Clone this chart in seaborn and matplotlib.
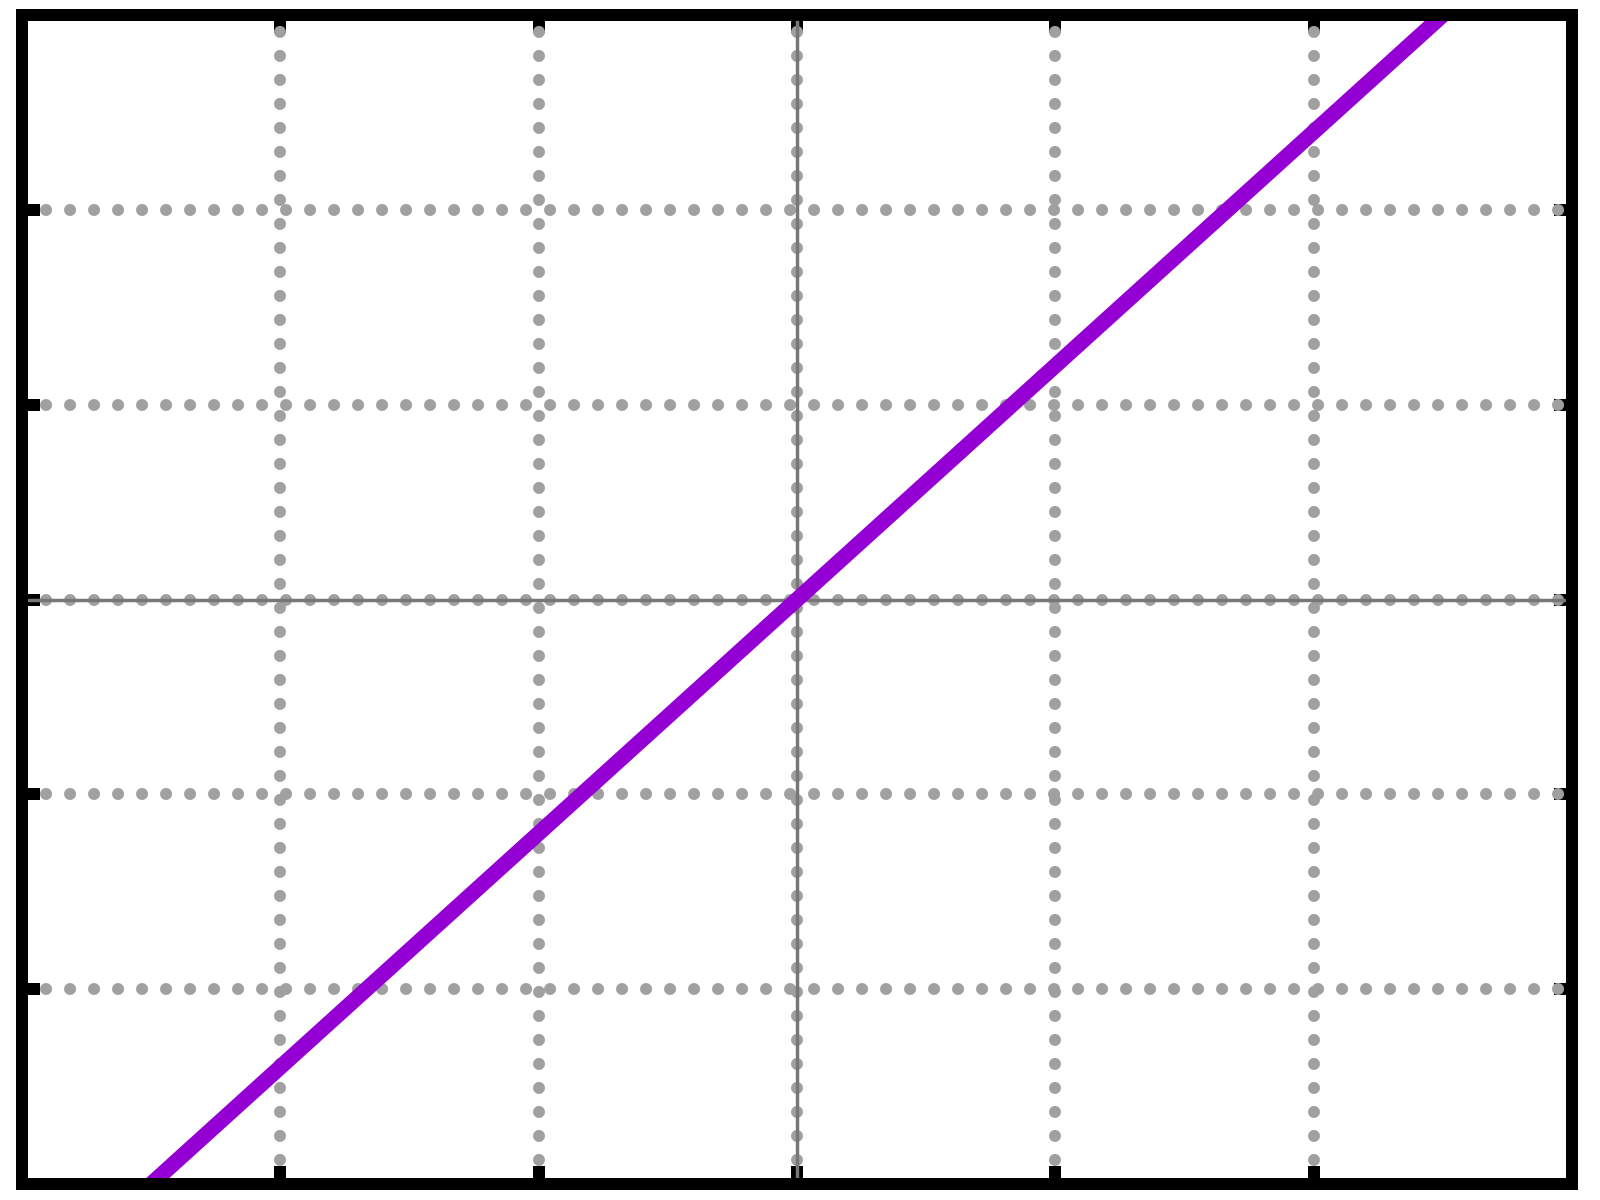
import matplotlib
matplotlib.use("Agg")
import matplotlib.pyplot as plt
import seaborn as sns
import pandas as pd

# --- DATA (straight line through the origin, slope ~1.2) ---
x_vals = [-3, -2, -1, 0, 1, 2, 3]
y_vals = [-3.6, -2.4, -1.2, 0.0, 1.2, 2.4, 3.6]
tick_pos = [-2, -1, 0, 1, 2]
x_lim = (-3, 3)
y_lim = (-3, 3)

LINE_COLOR = "#9400d3"
GRID_COLOR = "#a0a0a0"
ZERO_COLOR = "#777777"

sns.set_style("white")
plt.rcParams['font.family'] = ['DejaVu Sans']

df = pd.DataFrame({"x": x_vals, "y": y_vals})

fig = plt.figure(figsize=(16, 12), dpi=100)
ax = fig.add_axes([22 / 1600, 16 / 1200, 1550 / 1600, 1169 / 1200])

# dotted grid at the major ticks (round dots, 12px wide, 24px apart)
for t in tick_pos:
    ax.axvline(t, color=GRID_COLOR, linewidth=8.64, linestyle=(0, (0.01, 1.99)),
               dash_capstyle="round", zorder=1)
    ax.axhline(t, color=GRID_COLOR, linewidth=8.64, linestyle=(0, (0.01, 1.99)),
               dash_capstyle="round", zorder=1)

# zero axes
ax.axvline(0, color=ZERO_COLOR, linewidth=2.5, zorder=2)
ax.axhline(0, color=ZERO_COLOR, linewidth=2.5, zorder=2)

sns.lineplot(data=df, x="x", y="y", ax=ax, color=LINE_COLOR,
             linewidth=11.2, zorder=3)

ax.set_xlim(*x_lim)
ax.set_ylim(*y_lim)
ax.set_xticks(tick_pos)
ax.set_yticks(tick_pos)
ax.set_xticklabels([])
ax.set_yticklabels([])
ax.set_xlabel("")
ax.set_ylabel("")
ax.tick_params(direction="in", length=13, width=8.64, color="black",
               top=True, right=True, bottom=True, left=True, pad=0)
for s in ax.spines.values():
    s.set_visible(True)
    s.set_linewidth(8.64)
    s.set_color("black")
    s.set_zorder(5)

fig.savefig("out.png", dpi=100)
plt.close(fig)
